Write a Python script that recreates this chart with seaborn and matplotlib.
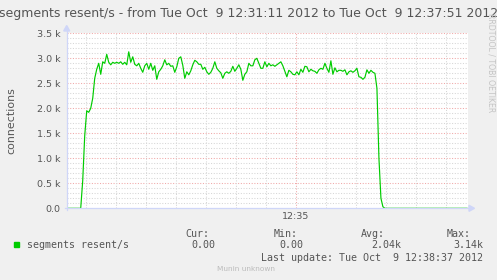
import numpy as np
import pandas as pd
import matplotlib
matplotlib.use("Agg")
import matplotlib.pyplot as plt
from matplotlib.patches import Polygon, Rectangle
import seaborn as sns

# ---- data (values in thousands of connections, sampled every 2 s from 12:31:11) ----
values_k = [
    0, 0, 0, 0, 0, 0, 0, 0,
    0.55, 1.45, 1.95, 1.92, 2.0, 2.2, 2.6, 2.78, 2.9, 2.68, 2.93, 2.9,
    3.08, 2.92, 2.87, 2.92, 2.9, 2.92, 2.9, 2.93, 2.88, 2.92, 2.87, 3.13,
    2.92, 3.03, 2.88, 2.85, 2.9,
    2.8, 2.72, 2.85, 2.9, 2.78, 2.9, 2.76, 2.85, 2.58, 2.73, 2.78, 2.85,
    2.97, 2.87, 2.9, 2.84, 2.85, 2.72, 2.83, 3.0, 3.03, 2.86, 2.6, 2.73,
    2.67, 2.75, 2.87, 2.96, 2.93, 2.88, 2.88, 2.78, 2.82, 2.73, 2.68, 2.72,
    2.8, 2.93, 2.8,
    2.75, 2.71, 2.6, 2.7, 2.73, 2.7, 2.74, 2.84, 2.74, 2.8, 2.87, 2.78,
    2.56, 2.68, 2.73, 2.9, 2.85, 2.85, 2.97, 3.0, 2.9, 2.8, 2.8, 2.93,
    2.83, 2.9, 2.85, 2.87, 2.84, 2.87, 2.9, 2.93, 2.85, 2.74, 2.63, 2.76,
    2.73, 2.68,
    2.67, 2.73, 2.67, 2.78, 2.72, 2.84, 2.83, 2.73, 2.78, 2.75, 2.74, 2.7,
    2.77, 2.8, 2.78, 2.9, 2.8, 2.72, 2.95, 2.68, 2.81, 2.73, 2.76, 2.76,
    2.74, 2.77, 2.67, 2.73, 2.75, 2.72, 2.75, 2.8, 2.63, 2.62, 2.58, 2.62,
    2.77, 2.7, 2.76, 2.72, 2.7, 2.4, 1.0, 0.2, 0.03,
]
values_k = values_k + [0] * (201 - len(values_k))
sample_step_s = 2

ytick_values = [0.0, 0.5, 1.0, 1.5, 2.0, 2.5, 3.0, 3.5]
ytick_labels = ["0.0", "0.5 k", "1.0 k", "1.5 k", "2.0 k", "2.5 k", "3.0 k", "3.5 k"]
xtick_seconds = [229]
xtick_labels = ["12:35"]
minor_x_seconds = [19, 49, 79, 109, 139, 169, 199, 259, 289, 319, 349, 379]

title = "segments resent/s - from Tue Oct  9 12:31:11 2012 to Tue Oct  9 12:37:51 2012"
ylabel = "connections"
series_name = "segments resent/s"
legend_heads = ["Cur:", "Min:", "Avg:", "Max:"]
legend_vals = ["0.00", "0.00", "2.04k", "3.14k"]
last_update = "Last update: Tue Oct  9 12:38:37 2012"
footer = "Munin unknown"
watermark = "RRDTOOL / TOBI OETIKER"

df = pd.DataFrame({"t": np.arange(len(values_k)) * sample_step_s, "v": values_k})

# ---- figure ----
W, H = 497, 280
FONT = "#555555"
AXIS = "#CFD6F8"
fig = plt.figure(figsize=(W / 100, H / 100), dpi=100, facecolor="#F0F0F0")

def fx(x):
    return x / W

def fy(y):
    return 1 - y / H

left, right, top, bottom = 66.7, 468.0, 33.3, 208.3
ax = fig.add_axes([fx(left), fy(bottom), (right - left) / W, (bottom - top) / H])
ax.set_facecolor("white")
ax.set_xlim(0, 401)
ax.set_ylim(0, 3.5)

# grid
for yv in np.arange(1, 36) / 10:
    major = abs(yv * 2 - round(yv * 2)) < 1e-6
    ax.axhline(yv, color="#F0A8A8" if major else "#D6D6D6", lw=0.75,
               ls=(0, (1, 1.6)), zorder=1)
for xs in minor_x_seconds:
    ax.axvline(xs, color="#D6D6D6", lw=0.75, ls=(0, (1, 1.6)), zorder=1)
for xs in xtick_seconds:
    ax.axvline(xs, color="#F0A8A8", lw=0.75, ls=(0, (1, 1.6)), zorder=1)

sns.lineplot(data=df, x="t", y="v", ax=ax, color="#00CC00", lw=0.85, zorder=3)

for s in ax.spines.values():
    s.set_visible(False)
ax.set_xlabel("")
ax.set_ylabel("")
ax.set_yticks(ytick_values)
ax.set_yticklabels(ytick_labels)
ax.set_xticks(xtick_seconds)
ax.set_xticklabels(xtick_labels)
ax.tick_params(axis="y", length=0, pad=4.3, labelsize=6.8, labelcolor=FONT)
ax.tick_params(axis="x", length=0, pad=3.0, labelsize=6.8, labelcolor=FONT)

# axes lines with arrows (figure pixel coords)
fig.add_artist(plt.Line2D([fx(64.5), fx(470)], [fy(bottom), fy(bottom)], color=AXIS, lw=0.9))
fig.add_artist(plt.Line2D([fx(left), fx(left)], [fy(bottom + 2), fy(29)], color=AXIS, lw=0.9))
fig.add_artist(Polygon([[fx(469), fy(bottom - 3)], [fx(474.5), fy(bottom)], [fx(469), fy(bottom + 3)]],
                       closed=True, color=AXIS, transform=fig.transFigure))
fig.add_artist(Polygon([[fx(left - 3), fy(31)], [fx(left), fy(25.5)], [fx(left + 3), fy(31)]],
                       closed=True, color=AXIS, transform=fig.transFigure))

# texts
fig.text(fx(248.5), fy(14), title, ha="center", va="center", fontsize=9.0, color=FONT)
fig.text(fx(11), fy(120.5), ylabel, ha="center", va="center", rotation=90, fontsize=7.9, color=FONT)
fig.text(fx(490.5), fy(13), watermark, ha="center", va="top", rotation=270, fontsize=5.6, color="#C4C4C4")

mono = "DejaVu Sans Mono"
fig.add_artist(Rectangle((fx(14), fy(247)), 5.3 / W, 5.3 / H, color="#00CC00", transform=fig.transFigure))
fig.text(fx(26.7), fy(245.3), series_name, ha="left", va="center", fontsize=7.2, family=mono, color=FONT)
for xh, t in zip([185.3, 273.3, 361.0, 447.0], legend_heads):
    fig.text(fx(xh), fy(234), t, ha="left", va="center", fontsize=7.2, family=mono, color=FONT)
for xv, t in zip([191.7, 279.7, 371.7, 453.0], legend_vals):
    fig.text(fx(xv), fy(245.3), t, ha="left", va="center", fontsize=7.2, family=mono, color=FONT)
fig.text(fx(261), fy(257.7), last_update, ha="left", va="center", fontsize=7.2, family=mono, color=FONT)
fig.text(fx(216.7), fy(269), footer, ha="left", va="center", fontsize=5.3, color="#BBBBBB")

fig.savefig("out.png", dpi=100, facecolor=fig.get_facecolor())
